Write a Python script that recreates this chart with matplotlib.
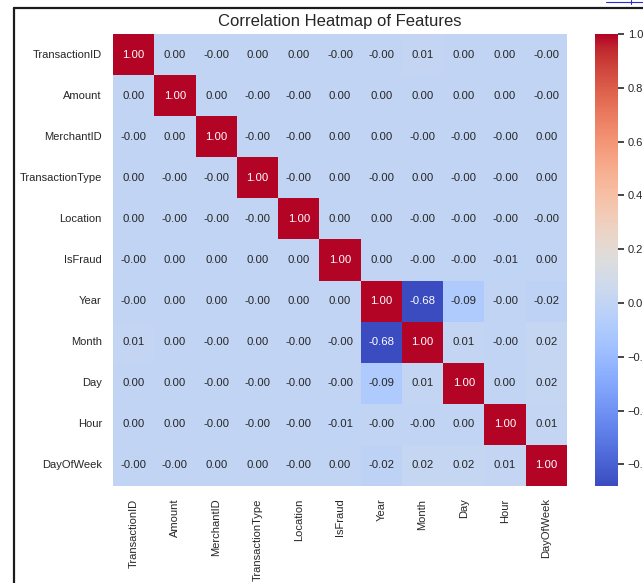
import numpy as np
import pandas as pd
import matplotlib
matplotlib.use("Agg")
import matplotlib.pyplot as plt
from matplotlib.lines import Line2D
import seaborn as sns

features = ["TransactionID", "Amount", "MerchantID", "TransactionType", "Location",
            "IsFraud", "Year", "Month", "Day", "Hour", "DayOfWeek"]

# correlation rows (tiny signed values keep the sign of the rounded zeros)
r_transaction_id = [1.00, 0.001, -0.001, 0.001, 0.001, -0.001, -0.001, 0.01, 0.001, 0.001, -0.001]
r_amount = [0.001, 1.00, 0.001, -0.001, -0.001, 0.001, 0.001, 0.001, 0.001, 0.001, -0.001]
r_merchant_id = [-0.001, 0.001, 1.00, -0.001, -0.001, 0.001, 0.001, -0.001, -0.001, -0.001, 0.001]
r_transaction_type = [0.001, -0.001, -0.001, 1.00, -0.001, 0.001, -0.001, 0.001, -0.001, -0.001, 0.001]
r_location = [0.001, -0.001, -0.001, -0.001, 1.00, 0.001, 0.001, -0.001, -0.001, -0.001, -0.001]
r_is_fraud = [-0.001, 0.001, 0.001, 0.001, 0.001, 1.00, 0.001, -0.001, -0.001, -0.01, 0.001]
r_year = [-0.001, 0.001, 0.001, -0.001, 0.001, 0.001, 1.00, -0.68, -0.09, -0.001, -0.02]
r_month = [0.01, 0.001, -0.001, 0.001, -0.001, -0.001, -0.68, 1.00, 0.01, -0.001, 0.02]
r_day = [0.001, 0.001, -0.001, -0.001, -0.001, -0.001, -0.09, 0.01, 1.00, 0.001, 0.02]
r_hour = [0.001, 0.001, -0.001, -0.001, -0.001, -0.01, -0.001, -0.001, 0.001, 1.00, 0.01]
r_day_of_week = [-0.001, -0.001, 0.001, 0.001, -0.001, 0.001, -0.02, 0.02, 0.02, 0.01, 1.00]

corr = pd.DataFrame([r_transaction_id, r_amount, r_merchant_id, r_transaction_type,
                     r_location, r_is_fraud, r_year, r_month, r_day, r_hour,
                     r_day_of_week], index=features, columns=features)

sns.set_theme(style="white")
plt.rcParams["font.family"] = ["Liberation Sans", "DejaVu Sans"]

W, H = 643, 583
fig = plt.figure(figsize=(W / 100, H / 100), dpi=100)
ax = fig.add_axes([113 / W, 1 - 486 / H, 454 / W, 452 / H])
cax = fig.add_axes([595 / W, 1 - 486 / H, 23 / W, 452 / H])

sns.heatmap(corr, annot=True, fmt=".2f", cmap="coolwarm", ax=ax, cbar_ax=cax,
            annot_kws={"size": 8.2})

ax.set_title("Correlation Heatmap of Features", fontsize=12, color="#262626", pad=6)
ax.tick_params(axis="both", length=0, labelsize=8, colors="#262626", pad=8)
ax.tick_params(axis="x", pad=9)
plt.setp(ax.get_xticklabels(), rotation=90)
plt.setp(ax.get_yticklabels(), rotation=0)

cax.tick_params(axis="y", length=4, width=1.2, colors="#262626", labelsize=8, pad=3)

# frame edge and link underline around the figure
lc = "#1c1c1c"
fig.add_artist(Line2D([13.5 / W, 13.5 / W], [0, 1 - 7.5 / H], color=lc, lw=1.6,
                      transform=fig.transFigure))
fig.add_artist(Line2D([13.5 / W, 1], [1 - 8 / H, 1 - 8 / H], color=lc, lw=1.6,
                      transform=fig.transFigure))
fig.add_artist(Line2D([606 / W, 1], [1 - 1.5 / H, 1 - 1.5 / H], color="#2a2ae0", lw=0.8,
                      transform=fig.transFigure))
fig.add_artist(Line2D([631 / W, 631 / W], [1, 1 - 4 / H], color="#2a2ae0", lw=0.8,
                      transform=fig.transFigure))

fig.savefig("out.png", dpi=100)
